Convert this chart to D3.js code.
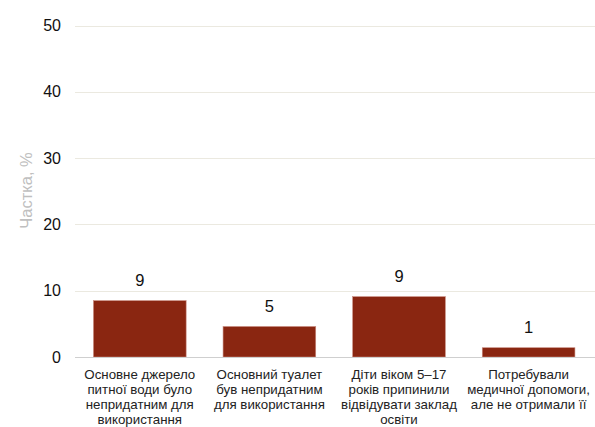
<!DOCTYPE html>
<html><head><meta charset="utf-8">
<script src="https://cdn.jsdelivr.net/npm/d3@7"></script>
<style>body{margin:0;background:#fff}svg{display:block}</style>
</head><body>
<svg id="c" width="595" height="427"></svg>
<script>
const categories = [
  ["Основне джерело","питної води було","непридатним для","використання"],
  ["Основний туалет","був непридатним","для використання"],
  ["Діти віком 5–17","років припинили","відвідувати заклад","освіти"],
  ["Потребували","медичної допомоги,","але не отримали її"]
];
const values = [8.5, 4.6, 9.1, 1.4];
const valueLabels = ["9", "5", "9", "1"];
const yTicks = [0, 10, 20, 30, 40, 50];
const yTitle = "Частка, %";

const svg = d3.select("#c");
const font = "'Liberation Sans', Arial, sans-serif";
const x = d3.scaleBand().domain(d3.range(values.length)).range([75, 593.4]).paddingInner(0.285).paddingOuter(0.1425);
const y = d3.scaleLinear().domain([0, 50]).range([357, 25.5]);

// gridlines
svg.append("g").selectAll("line").data(yTicks.filter(t => t > 0)).join("line")
  .attr("x1", 75).attr("x2", 595)
  .attr("y1", d => Math.round(y(d)) + 0.5).attr("y2", d => Math.round(y(d)) + 0.5)
  .attr("stroke", "#ebe9e0").attr("stroke-width", 1);

// y tick labels
svg.append("g").selectAll("text").data(yTicks).join("text")
  .attr("x", 61).attr("y", d => y(d)).attr("dy", "0.35em")
  .attr("text-anchor", "end").attr("font-family", font).attr("font-size", 16).attr("fill", "#111")
  .text(d => d);

// bars
svg.append("g").selectAll("rect").data(values).join("rect")
  .attr("x", (d, i) => x(i)).attr("width", x.bandwidth())
  .attr("y", d => y(d)).attr("height", d => y(0) - y(d))
  .attr("fill", "#8a2611").attr("stroke", "#c98a7e").attr("stroke-width", 0.6);

// zero line
svg.append("line").attr("x1", 75).attr("x2", 595)
  .attr("y1", Math.round(y(0)) + 0.5).attr("y2", Math.round(y(0)) + 0.5)
  .attr("stroke", "#cfcfcf").attr("stroke-width", 1.2);

// value labels
svg.append("g").selectAll("text").data(values).join("text")
  .attr("x", (d, i) => x(i) + x.bandwidth() / 2).attr("y", d => y(d) - 14.5)
  .attr("text-anchor", "middle").attr("font-family", font).attr("font-size", 16.5).attr("fill", "#111")
  .text((d, i) => valueLabels[i]);

// category labels
const cg = svg.append("g").selectAll("text").data(categories).join("text")
  .attr("x", (d, i) => x(i) + x.bandwidth() / 2)
  .attr("text-anchor", "middle").attr("font-family", font).attr("font-size", 13.3).attr("fill", "#222");
cg.selectAll("tspan").data(d => d).join("tspan")
  .attr("x", function () { return this.parentNode.getAttribute("x"); })
  .attr("y", (d, j) => 379 + j * 15).text(d => d);

// y title
svg.append("text").attr("transform", "translate(26,190.5) rotate(-90)")
  .attr("text-anchor", "middle").attr("dy", "0.35em").attr("font-family", font).attr("font-size", 16.5).attr("fill", "#bfbfbf")
  .text(yTitle);
</script>
</body></html>
